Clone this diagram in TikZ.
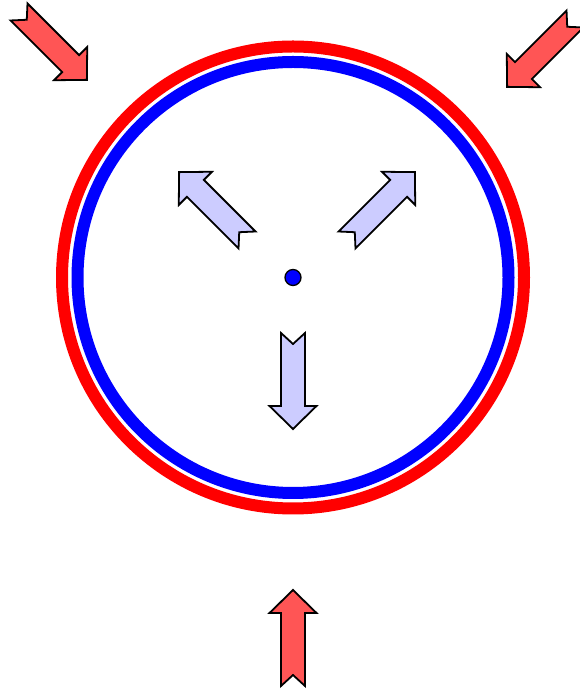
\documentclass[tikz,border=0pt]{standalone}
\usepackage{tikz}
\usetikzlibrary{positioning}
\definecolor{ringred}{HTML}{FF0000}
\definecolor{ringblue}{HTML}{0000FF}
\definecolor{pushred}{HTML}{FF5555}
\definecolor{pullblue}{HTML}{CCCCFF}
\tikzset{
  blockarrow/.pic={
    \draw[pic actions] (0,12) -- (73,12) -- (73,23.5) -- (96,0) -- (73,-23.5)
      -- (73,-12) -- (0,-12) -- (11,0) -- cycle;
  },
  inarrow/.style={fill=pushred,draw=black,line width=1.8pt,line join=miter},
  outarrow/.style={fill=pullblue,draw=black,line width=1.8pt,line join=miter},
  ring/.style={line width=12pt}
}
\begin{document}
\begin{tikzpicture}[x=1pt,y=1pt]
\useasboundingbox (0,0) rectangle (580,690);

% rings
\coordinate (hub) at (293,412.5);
\draw[ring,draw=ringred] (hub) circle (231);
\draw[ring,draw=ringblue] (hub) circle (215.5);
\node[circle,fill=ringblue,draw=black,line width=1.3pt,minimum size=16pt,inner sep=0pt] (dot) at (hub) {};

% outer arrows, pushing in
\pic[inarrow,rotate=-45] (pushNW) at (19,678) {blockarrow};
\pic[inarrow,rotate=225] (pushNE) at (575,671) {blockarrow};
\pic[inarrow,rotate=90] (pushS) at (293,4) {blockarrow};

% inner arrows, pulling out
\pic[outarrow,rotate=135] (pullNW) at (247,450) {blockarrow};
\pic[outarrow,rotate=45] (pullNE) at (347,450) {blockarrow};
\pic[outarrow,rotate=-90] (pullS) at (293,357) {blockarrow};
\end{tikzpicture}
\end{document}
